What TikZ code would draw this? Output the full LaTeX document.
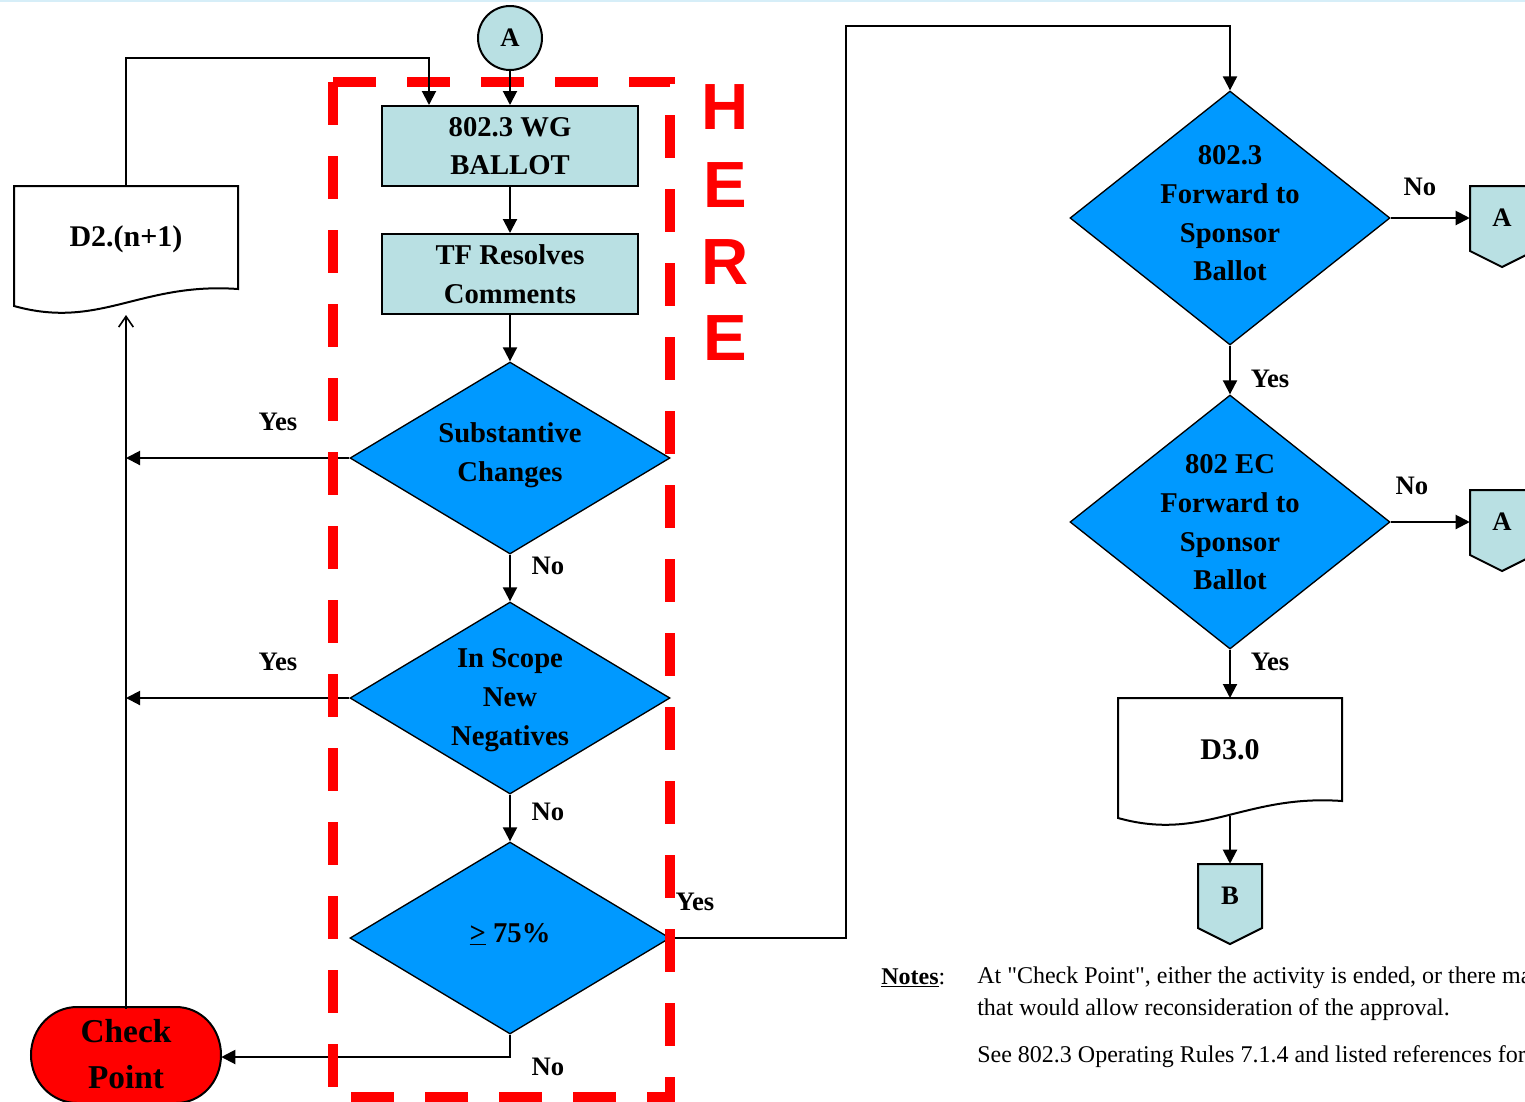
\documentclass[tikz,border=0pt]{standalone}
\usepackage{fontspec}
\setmainfont{Liberation Serif}
\newfontfamily\heresans{Liberation Sans}
\newfontfamily\notefont{Liberation Serif}[Ligatures=TeXOff]
\usetikzlibrary{shapes.geometric,arrows.meta,calc}
\definecolor{pale}{HTML}{B9E0E3}
\definecolor{dblue}{HTML}{0099FF}
\definecolor{topline}{HTML}{D6EEF8}
\begin{document}
\begin{tikzpicture}[x=0.75pt,y=-0.75pt,
  conn/.style={line width=1.5pt,-{Triangle[length=10.5pt,width=10.5pt]}},
  barb/.style={line width=1.5pt,-{Straight Barb[length=8pt,width=11pt,line width=1.2pt]}},
  shapeline/.style={draw=black,line width=1.5pt,line join=miter},
  procbox/.style={draw,fill=pale,line width=1.5pt,minimum width=192pt,minimum height=60pt,inner sep=0pt},
  dec/.style={diamond,draw,fill=dblue,line width=1pt,inner sep=0pt,minimum width=240pt,minimum height=144pt},
  bigdec/.style={dec,minimum height=190.5pt},
  txt/.style={font=\bfseries\fontsize{21.5}{29}\selectfont,align=center,inner sep=0pt},
  lbl/.style={font=\bfseries\fontsize{20}{24}\selectfont,inner sep=0pt},
  hole/.style={inner sep=0pt,font=\bfseries\fontsize{20}{24}\selectfont},
  heretxt/.style={font=\heresans\bfseries\fontsize{49}{49}\selectfont,text=red,inner sep=0pt},
  notetxt/.style={font=\notefont\fontsize{18}{21}\selectfont,anchor=west,inner sep=0pt},
  reddash/.style={draw=red,line width=7.5pt,dash pattern=on 32.25pt off 23.25pt},
]
\useasboundingbox (0,0) rectangle (1525,1101);
\clip (0,0) rectangle (1525,1101);
\fill[white] (0,0) rectangle (1525,1101);
\draw[topline,line width=2pt] (0,1) -- (1525,1);

% ---------- left column ----------
\node[circle,draw,fill=pale,line width=1.5pt,minimum size=48pt,inner sep=0pt,font=\bfseries\fontsize{20}{24}\selectfont] (A) at (510,38) {A};
\node[procbox] (wg) at (510,146) {};
\node[txt] at (wg) {802.3 WG\\BALLOT};
\node[procbox] (tf) at (510,274) {};
\node[txt] at (tf) {TF Resolves\\Comments};
\node[dec] (d1) at (510,458) {};
\node[txt] at (510,455) {Substantive\\Changes};
\node[dec] (d2x) at (510,698) {};
\node[txt] at (510,700) {In Scope\\New\\Negatives};
\node[dec] (d3) at (510,938) {};
\node[txt] at (510,934) {\underline{>} 75\%};

% document D2.(n+1)
\draw[shapeline,fill=white] (14,186) -- (238,186) -- (238,289) .. controls (140,282) and (100,330) .. (14,306) -- cycle;
\node[txt,font=\bfseries\fontsize{22.5}{29}\selectfont] (d2) at (126,239) {D2.(n+1)};
\coordinate (d2top) at (126,186);
\coordinate (d2bot) at (126,315);

% Check Point
\draw[shapeline,fill=red] (77,1007) -- (176,1007) .. controls (201,1007) and (221,1028) .. (221,1055)
  .. controls (221,1082) and (201,1103) .. (176,1103) -- (77,1103)
  .. controls (52,1103) and (31,1082) .. (31,1055) .. controls (31,1028) and (52,1007) .. (77,1007) -- cycle;
\node[inner sep=0pt,minimum width=142.5pt,minimum height=72pt] (cp) at (126,1057) {};
\node[font=\bfseries\fontsize{25}{34}\selectfont,align=center,inner sep=0pt] at (126,1054) {Check\\Point};

% connectors, left part
\draw[conn] (wg) -- (tf);
\draw[conn] (tf) -- (d1);
\draw[conn] (d1) -- (d2x);
\draw[conn] (d2x) -- (d3);
\draw[conn] (d1.west) -- (d1.west -| cp.north);
\draw[conn] (d2x.west) -- (d2x.west -| cp.north);
\draw[barb] (cp.north) -- (d2bot);
\draw[conn] (d3.south) |- (cp.east);

\node[lbl] at (278,422) {Yes};
\node[lbl] at (278,662) {Yes};
\node[lbl] at (548,566) {No};
\node[lbl] at (548,812) {No};
\node[lbl] at (548,1067) {No};
\node[lbl] at (695,902) {Yes};

% ---------- right column ----------
\node[bigdec] (d4) at (1230,218) {};
\node[txt] at (1230,213.5) {802.3\\Forward to\\Sponsor\\Ballot};
\node[bigdec] (d5) at (1230,522) {};
\node[txt] at (1230,522.5) {802 EC\\Forward to\\Sponsor\\Ballot};

% off-page connectors A
\draw[shapeline,fill=pale] (1470,186) -- (1534,186) -- (1534,251) -- (1502,267) -- (1470,251) -- cycle;
\node[hole,minimum width=48pt,minimum height=48.75pt] (A1) at (1502,218) {A};
\draw[shapeline,fill=pale] (1470,490) -- (1534,490) -- (1534,555) -- (1502,571) -- (1470,555) -- cycle;
\node[hole,minimum width=48pt,minimum height=48.75pt] (A2) at (1502,522) {A};

% document D3.0
\draw[shapeline,fill=white] (1118,698) -- (1342,698) -- (1342,801) .. controls (1244,794) and (1204,842) .. (1118,818) -- cycle;
\node[txt,font=\bfseries\fontsize{22.5}{29}\selectfont] (d30) at (1230,750) {D3.0};
\coordinate (d30top) at (1230,698);
\coordinate (d30bot) at (1230,816);

% off-page connector B
\draw[shapeline,fill=pale] (1198,864) -- (1262,864) -- (1262,928) -- (1230,944) -- (1198,928) -- cycle;
\node[hole,minimum width=48pt,minimum height=48pt] (B) at (1230,896) {B};

\draw[conn] (d3.east) -- (846,938) -- (846,26) -| (d4.north);
\draw[conn] (d4) -- (d5);
\draw[conn] (d4.east) -- (A1.west);
\draw[conn] (d5.east) -- (A2.west);
\draw[conn] (d5.south) -- (d30top);
\draw[conn] (d30bot) -- (B.north);

\node[lbl] at (1270,379) {Yes};
\node[lbl] at (1270,662) {Yes};
\node[lbl] at (1420,187) {No};
\node[lbl] at (1412,486) {No};

% ---------- red dashed frame and HERE ----------
\draw[reddash] (333,82) -- (670,82) -- (670,1097) -- (333,1097);
\draw[reddash] (333,82) -- (333,1097);
\draw[conn] (d2top) -- (126,58) -| ($(wg.north west)+(48,0)$);
\draw[conn] (A) -- (wg);

\node[heretxt] at (725,107) {H};
\node[heretxt] at (725,185) {E};
\node[heretxt] at (725,262) {R};
\node[heretxt] at (725,338) {E};

% ---------- notes ----------
\node[notetxt] at (881,978) {{\bfseries\underline{Notes}}:};
\node[notetxt] at (977,978) {At "Check Point", either the activity is ended, or there may};
\node[notetxt] at (977,1010) {that would allow reconsideration of the approval.};
\node[notetxt] at (977,1057) {See 802.3 Operating Rules 7.1.4 and listed references for};
\end{tikzpicture}
\end{document}
